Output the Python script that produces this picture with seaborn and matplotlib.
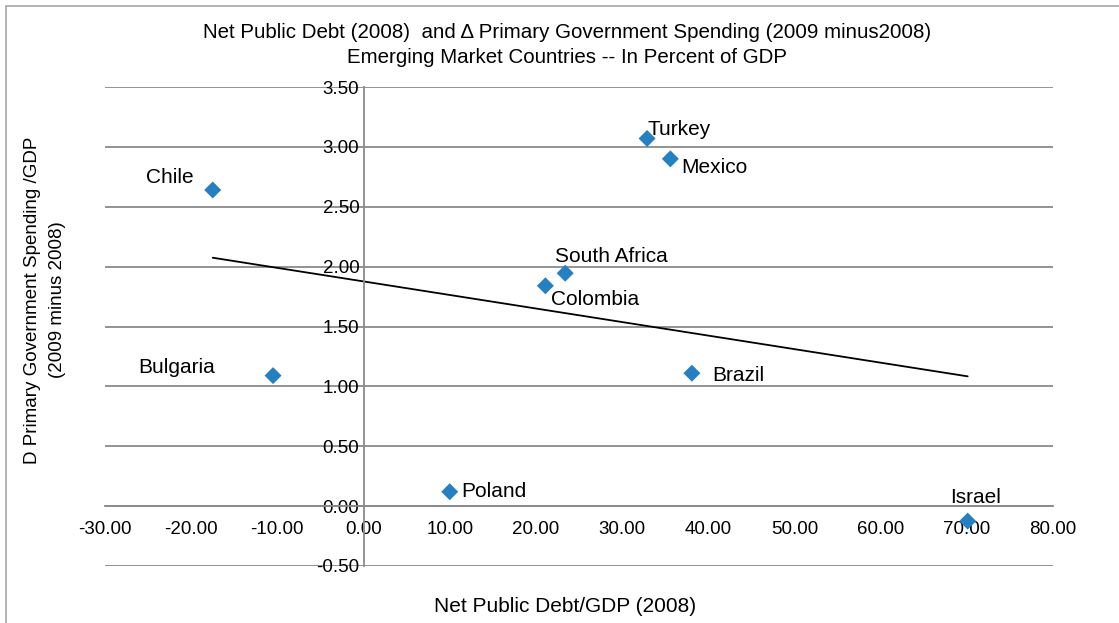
import numpy as np
import pandas as pd
import matplotlib
matplotlib.use("Agg")
import matplotlib.pyplot as plt
import seaborn as sns
from matplotlib.patches import Rectangle

# ---- data ----
countries = ["Chile", "Bulgaria", "Poland", "Colombia", "South Africa",
             "Turkey", "Mexico", "Brazil", "Israel"]
net_debt = [-17.5, -10.5, 10.0, 21.1, 23.4, 32.9, 35.6, 38.1, 70.1]
d_spending = [2.64, 1.09, 0.12, 1.84, 1.945, 3.07, 2.90, 1.11, -0.125]
x_ticks = [-30, -20, -10, 0, 10, 20, 30, 40, 50, 60, 70, 80]
y_ticks = [-0.5, 0.0, 0.5, 1.0, 1.5, 2.0, 2.5, 3.0, 3.5]

# label offsets (pixels) and alignment per country
label_style = {
    "Chile": (-43, 12, "center"),
    "Bulgaria": (-96, 8, "center"),
    "Poland": (12, 0, "left"),
    "Colombia": (50, -14, "center"),
    "South Africa": (46, 17, "center"),
    "Turkey": (0, 9, "left"),
    "Mexico": (44, -9, "center"),
    "Brazil": (46, -2, "center"),
    "Israel": (8, 24, "center"),
}

df = pd.DataFrame({"country": countries, "x": net_debt, "y": d_spending})

sns.set_style("white")
plt.rcParams["font.family"] = ["Liberation Sans", "DejaVu Sans"]
plt.rcParams["text.color"] = "black"
plt.rcParams["xtick.labelcolor"] = "black"
plt.rcParams["ytick.labelcolor"] = "black"
narrow = ["Liberation Sans Narrow", "Liberation Sans", "DejaVu Sans"]

fig = plt.figure(figsize=(11.19, 6.23), dpi=100)
ax = fig.add_axes([105 / 1119, 1 - 566 / 623, (1053 - 105) / 1119, (566 - 87) / 623])

grid_c = "#8a8a8a"
for yv in y_ticks:
    ax.axhline(yv, color=grid_c, lw=1.3, zorder=0)

sns.scatterplot(data=df, x="x", y="y", marker="D", s=75, color="#2580c3",
                edgecolor="none", ax=ax, zorder=3, legend=False)

# linear trend line
coef = np.polyfit(df["x"], df["y"], 1)
xs = np.array([df["x"].min(), df["x"].max()])
ax.plot(xs, np.polyval(coef, xs), color="black", lw=1.3, zorder=2)

for c, xv, yv in zip(countries, net_debt, d_spending):
    dx, dy, ha = label_style[c]
    ax.annotate(c, (xv, yv), xytext=(dx, dy), textcoords="offset pixels",
                ha=ha, va="center", fontsize=15, color="black")

ax.set_xlim(-30, 80)
ax.set_ylim(-0.5, 3.5)
ax.set_xticks(x_ticks)
ax.set_yticks(y_ticks)
ax.set_xticklabels([f"{v:.2f}" for v in x_ticks])
ax.set_yticklabels([f"{v:.2f}" for v in y_ticks])

for s in ["top", "right"]:
    ax.spines[s].set_visible(False)
ax.spines["left"].set_position(("data", 0))
ax.spines["bottom"].set_position(("data", 0))
for s in ["left", "bottom"]:
    ax.spines[s].set_color(grid_c)
    ax.spines[s].set_linewidth(1.3)
ax.tick_params(axis="x", direction="out", length=6, width=1.3, color=grid_c,
               labelsize=13.5, pad=5)
ax.tick_params(axis="y", length=0, labelsize=13.5, pad=3)
ax.set_xlabel("")
ax.set_ylabel("")

fig.text(565 / 1119, 1 - 606 / 623, "Net Public Debt/GDP (2008)", ha="center",
         va="center", fontsize=15, family=narrow)
fig.text(33 / 1119, 1 - 300 / 623, "D Primary Government Spending /GDP",
         ha="center", va="center", rotation=90, fontsize=13.5, family=narrow)
fig.text(57 / 1119, 1 - 300 / 623, "(2009 minus 2008)",
         ha="center", va="center", rotation=90, fontsize=13.5, family=narrow)
fig.text(567 / 1119, 1 - 45 / 623,
         "Net Public Debt (2008)  and \u0394 Primary Government Spending (2009 minus2008)\n"
         "Emerging Market Countries -- In Percent of GDP",
         ha="center", va="center", fontsize=14.8, family=narrow, linespacing=1.4)

fig.patches.append(Rectangle((6 / 1119, -0.1), 1.2, 1 - 6 / 623 + 0.1,
                             transform=fig.transFigure, fill=False,
                             edgecolor="#a6a6a6", lw=1.2))

fig.savefig("out.png", dpi=100)
